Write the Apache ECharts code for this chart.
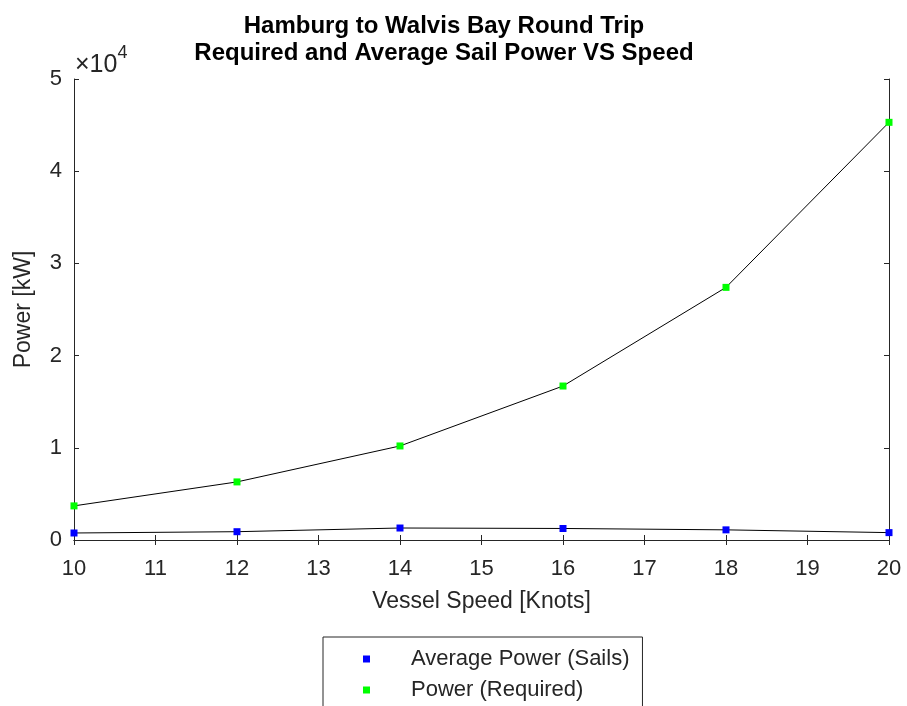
<!DOCTYPE html>
<html>
<head>
<meta charset="utf-8">
<script src="https://cdn.jsdelivr.net/npm/echarts@6/dist/echarts.min.js"></script>
<style>
  html, body { margin: 0; padding: 0; background: #fff; }
  #chart { width: 907px; height: 706px; }
</style>
</head>
<body>
<div id="chart"></div>
<script>
// vessel speed in knots
var speeds = [10, 12, 14, 16, 18, 20];
// power in kW
var sailPower = [760, 900, 1300, 1250, 1100, 800];
var requiredPower = [3700, 6300, 10200, 16700, 27400, 45300];
var yTicks = [0, 1, 2, 3, 4, 5]; // x 10^4

var font = 'Liberation Sans, Arial, Helvetica, sans-serif';
var axisColor = '#262626';

function pairs(xs, ys) {
  return xs.map(function (x, i) { return [x, ys[i]]; });
}

var chart = echarts.init(document.getElementById('chart'));

var baseAxis = {
  axisLine: { show: true, lineStyle: { color: axisColor, width: 1 } },
  axisTick: { show: true, inside: true, length: 5, lineStyle: { color: axisColor } },
  splitLine: { show: false }
};

var option = {
  animation: false,
  backgroundColor: '#fff',
  title: {
    text: 'Hamburg to Walvis Bay Round Trip\nRequired and Average Sail Power VS Speed',
    left: 439,
    top: 8,
    textAlign: 'center',
    textStyle: { fontFamily: font, fontSize: 24, fontWeight: 'bold', color: '#000', lineHeight: 27 }
  },
  grid: { left: 74, right: 18, top: 79, bottom: 166, containLabel: false },
  legend: {
    orient: 'vertical',
    left: 323,
    top: 637,
    height: 90,
    padding: [11, 13, 14, 40],
    itemGap: 9,
    itemWidth: 7,
    itemHeight: 7,
    icon: 'rect',
    borderColor: '#262626',
    borderWidth: 1,
    textStyle: { fontFamily: font, fontSize: 22, color: axisColor, lineHeight: 20, padding: [0, 0, 0, 36] },
    data: [
      { name: 'Average Power (Sails)', itemStyle: { color: '#0000ff' } },
      { name: 'Power (Required)', itemStyle: { color: '#00ff00' } }
    ]
  },
  xAxis: [
    Object.assign({}, baseAxis, {
      type: 'value', min: 10, max: 20, interval: 1,
      name: 'Vessel Speed [Knots]', nameLocation: 'middle', nameGap: 50,
      nameTextStyle: { fontFamily: font, fontSize: 23, color: axisColor },
      axisLabel: { fontFamily: font, fontSize: 22, color: axisColor, margin: 18 }
    }),
    Object.assign({}, baseAxis, {
      type: 'value', min: 10, max: 20, interval: 1, position: 'top',
      axisLabel: { show: false }
    })
  ],
  yAxis: [
    Object.assign({}, baseAxis, {
      type: 'value', min: 0, max: 50000, interval: 10000,
      name: 'Power [kW]', nameLocation: 'middle', nameGap: 39,
      nameTextStyle: { fontFamily: font, fontSize: 23, color: axisColor },
      axisLabel: {
        fontFamily: font, fontSize: 22, color: axisColor, margin: 12,
        formatter: function (v) { return String(yTicks[Math.round(v / 10000)]); }
      }
    }),
    Object.assign({}, baseAxis, {
      type: 'value', min: 0, max: 50000, interval: 10000, position: 'right',
      axisLabel: { show: false }
    })
  ],
  graphic: [{
    type: 'text',
    left: 75,
    top: 44,
    style: {
      text: '{a|×10}{b|4}',
      rich: {
        a: { fontFamily: font, fontSize: 25, fill: axisColor, padding: [9, 0, 0, 0] },
        b: { fontFamily: font, fontSize: 18, fill: axisColor, verticalAlign: 'top' }
      }
    }
  }],
  series: [
    {
      name: 'Average Power (Sails)',
      type: 'line',
      data: pairs(speeds, sailPower),
      symbol: 'rect',
      symbolSize: 7,
      itemStyle: { color: '#0000ff' },
      lineStyle: { color: '#000', width: 1 },
      z: 3
    },
    {
      name: 'Power (Required)',
      type: 'line',
      data: pairs(speeds, requiredPower),
      symbol: 'rect',
      symbolSize: 7,
      itemStyle: { color: '#00ff00' },
      lineStyle: { color: '#000', width: 1 },
      z: 3
    }
  ]
};

chart.setOption(option);
</script>
</body>
</html>
